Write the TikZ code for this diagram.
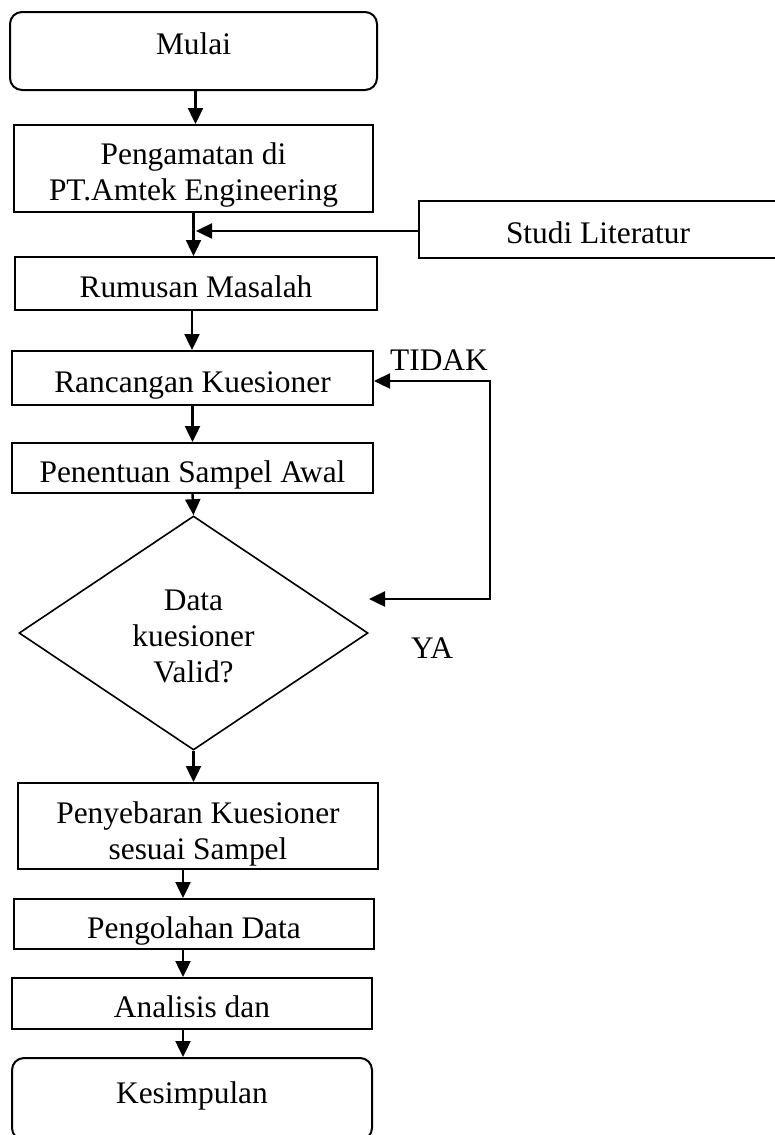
\documentclass[tikz,border=0pt]{standalone}
\usepackage{fontspec}
\setmainfont{Liberation Serif}
\usetikzlibrary{shapes.geometric,arrows.meta}
\begin{document}
\begin{tikzpicture}[x=.5pt,y=-.5pt,
  every node/.style={font=\fontsize{15.7}{18}\selectfont},
  kotak/.style={draw,line width=1pt,inner sep=0pt,text height=14.4pt,text depth=0pt},
  ujung/.style={kotak,rounded corners=6pt},
  putusan/.style={draw,diamond,line width=.8pt,inner sep=0pt,align=center},
  panah/.style={line width=1.2pt,-{Triangle[length=8pt,width=7.5pt]}},
  balik/.style={line width=1.2pt,{Triangle[length=8pt,width=7.5pt]}-{Triangle[length=8pt,width=7.5pt]}}]
\useasboundingbox (0,0) rectangle (775,1135);
\node[ujung,minimum width=183.5pt,minimum height=39pt,text height=3.4pt] (mulai) at (193.5,51) {Mulai};
\node[kotak,align=center,minimum width=179.5pt,minimum height=43.5pt,text height=31.5pt] (amati) at (193.5,168.5) {Pengamatan di\\PT.Amtek Engineering};
\node[kotak,minimum width=179pt,minimum height=28.5pt] (studi) at (598,229.5) {Studi Literatur};
\node[kotak,minimum width=181pt,minimum height=26.5pt] (rumus) at (196,283.5) {Rumusan Masalah};
\node[kotak,minimum width=180.5pt,minimum height=27pt] (rancang) at (192.5,378) {Rancangan Kuesioner};
\node[kotak,minimum width=180.5pt,minimum height=25pt] (sampel) at (192.5,468) {Penentuan Sampel Awal};
\node[putusan,minimum width=174.5pt,minimum height=117pt,text height=49pt,text depth=0pt] (valid) at (193.5,633) {Data\\kuesioner\\Valid?};
\node[kotak,align=center,minimum width=180pt,minimum height=43pt,text height=33pt] (sebar) at (198,826) {Penyebaran Kuesioner\\sesuai Sampel};
\node[kotak,minimum width=180pt,minimum height=25pt] (olah) at (194,924) {Pengolahan Data};
\node[kotak,minimum width=180pt,minimum height=25.5pt] (analisis) at (192,1003.5) {Analisis dan};
\node[ujung,minimum width=180pt,minimum height=41pt,text height=4.4pt] (simpul) at (192,1099) {Kesimpulan};
\node (tidak) at (439,360) {TIDAK};
\node (ya) at (432,648) {YA};
%%%%
\coordinate (gabung) at (196,231);
\coordinate (putar) at (490,381);
\coordinate (kembali) at (369,599);
\draw[panah] ([xshift=1pt]mulai.south) -- ([xshift=1pt]mulai.south |- amati.north);
\draw[panah] (amati.south) -- (amati.south |- rumus.north);
\draw[panah] (studi.west |- gabung) -- (gabung);
\draw[panah] ([xshift=-2pt]rumus.south) -- ([xshift=-2pt]rumus.south |- rancang.north);
\draw[panah] (rancang.south) -- (rancang.south |- sampel.north);
\draw[panah] (sampel.south) -- (valid.north);
\draw[panah] (valid.south) -- (valid.south |- sebar.north);
\draw[panah] ([xshift=-7.5pt]sebar.south) -- ([xshift=-7.5pt]sebar.south |- olah.north);
\draw[panah] ([xshift=-5.5pt]olah.south) -- ([xshift=-5.5pt]olah.south |- analisis.north);
\draw[panah] ([xshift=-4.5pt]analisis.south) -- ([xshift=-4.5pt]analisis.south |- simpul.north);
\draw[balik] (rancang.east |- putar) -- (putar) -- (putar |- kembali) -- (kembali);
\end{tikzpicture}
\end{document}
